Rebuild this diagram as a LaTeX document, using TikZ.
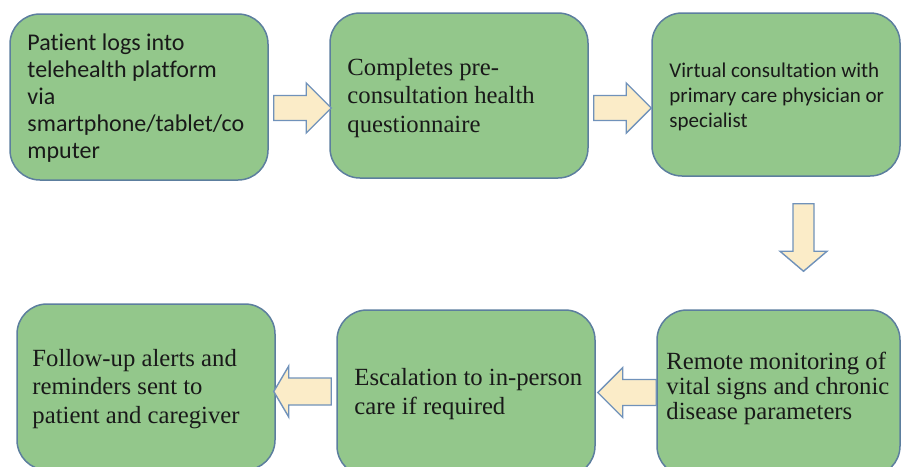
\documentclass[tikz,border=0pt]{standalone}
\usepackage{fontspec}
\setmainfont{Liberation Serif}
\newfontfamily\carlito[Ligatures=NoCommon]{Carlito}
\usetikzlibrary{calc}
\definecolor{boxfill}{RGB}{147,199,139}
\definecolor{boxdraw}{RGB}{92,126,158}
\definecolor{arrfill}{RGB}{251,236,200}
\definecolor{arrdraw}{RGB}{112,146,186}
\definecolor{txtcol}{RGB}{25,25,25}
\tikzset{
  stepbox/.style={draw=boxdraw, fill=boxfill, line width=1.5pt, rounded corners=30pt, inner sep=0pt},
  barrow/.style={draw=arrdraw, fill=arrfill, line width=1.4pt, line join=miter},
  sertxt/.style={anchor=west, align=left, inner sep=0pt, text=txtcol, font=\fontsize{24.7}{28.5}\selectfont},
  santxt/.style={anchor=west, align=left, inner sep=0pt, text=txtcol, font=\carlito\fontsize{24}{26.8}\selectfont},
}
% horizontal block arrow: tail centre, tip, half shaft, half head, signed head length
\newcommand\harrow[5]{%
  \draw[barrow] let \p1=(#1), \p2=(#2) in
    (\x1,{\y1+#3pt}) -- ({\x2-(#5pt)},{\y1+#3pt}) -- ({\x2-(#5pt)},{\y1+#4pt}) -- (\x2,\y1)
    -- ({\x2-(#5pt)},{\y1-#4pt}) -- ({\x2-(#5pt)},{\y1-#3pt}) -- (\x1,{\y1-#3pt}) -- cycle;}
% vertical (downward) block arrow
\newcommand\varrow[5]{%
  \draw[barrow] let \p1=(#1), \p2=(#2) in
    ({\x1-#3pt},\y1) -- ({\x1-#3pt},{\y2+#5pt}) -- ({\x1-#4pt},{\y2+#5pt}) -- (\x1,\y2)
    -- ({\x1+#4pt},{\y2+#5pt}) -- ({\x1+#3pt},{\y2+#5pt}) -- ({\x1+#3pt},\y1) -- cycle;}
\begin{document}
\begin{tikzpicture}[x=1pt,y=-1pt]
\useasboundingbox (0,0) rectangle (902,466);
% boxes
\node[stepbox, minimum width=258pt, minimum height=166pt] (b1) at (139,97) {};
\node[stepbox, minimum width=258pt, minimum height=165pt] (b2) at (459,95.5) {};
\node[stepbox, minimum width=248pt, minimum height=163pt] (b3) at (776,94.5) {};
\node[stepbox, minimum width=258pt, minimum height=166pt] (b4) at (146,387) {};
\node[stepbox, minimum width=258pt, minimum height=166pt] (b5) at (466,393) {};
\node[stepbox, minimum width=243pt, minimum height=166pt] (b6) at (778.5,393) {};
% texts
\node[santxt] (t1txt) at ($(b1.west)+(18,1)$) {Patient logs into\\telehealth platform\\via\\smartphone/tablet/co\\mputer};
\node[sertxt] (t2txt) at ($(b2.west)+(18,2.5)$) {Completes pre-\\consultation health\\questionnaire};
\node[santxt, font=\carlito\fontsize{21}{25}\selectfont] (t3txt) at ($(b3.west)+(18,2.5)$) {Virtual consultation with\\primary care physician or\\specialist};
\node[sertxt] (t4txt) at ($(b4.west)+(16,2)$) {Follow-up alerts and\\reminders sent to\\patient and caregiver};
\node[sertxt] (t5txt) at ($(b5.west)+(18,1)$) {Escalation to in-person\\care if required};
\node[sertxt, font=\fontsize{24.7}{25}\selectfont] (t6txt) at ($(b6.west)+(10,-5)$) {Remote monitoring of\\vital signs and chronic\\disease parameters};
% arrow anchor points
\coordinate (s1) at ($(b1.east)+(5,11)$);
\coordinate (e1) at ($(b2.west)+(2,12.5)$);
\coordinate (s2) at ($(b2.east)+(5,12.5)$);
\coordinate (e2) at ($(b3.west)+(0,13.5)$);
\coordinate (s3) at ($(b3.south)+(27.5,27)$);
\coordinate (e3) at ($(b6.north)+(25,-38)$);
\coordinate (s4) at ($(b6.west)+(0,-0.5)$);
\coordinate (e4) at ($(b5.east)+(2,0)$);
\coordinate (s5) at ($(b5.west)+(-5,-1.5)$);
\coordinate (e5) at ($(b4.east)+(-2,4.5)$);
% block arrows
\harrow{s1}{e1}{12.5}{25}{25}
\harrow{s2}{e2}{12.5}{25}{25}
\varrow{s3}{e3}{10.5}{23.5}{20}
\harrow{s4}{e4}{13}{25}{-25}
\harrow{s5}{e5}{13.5}{25.5}{-15}
\end{tikzpicture}
\end{document}
